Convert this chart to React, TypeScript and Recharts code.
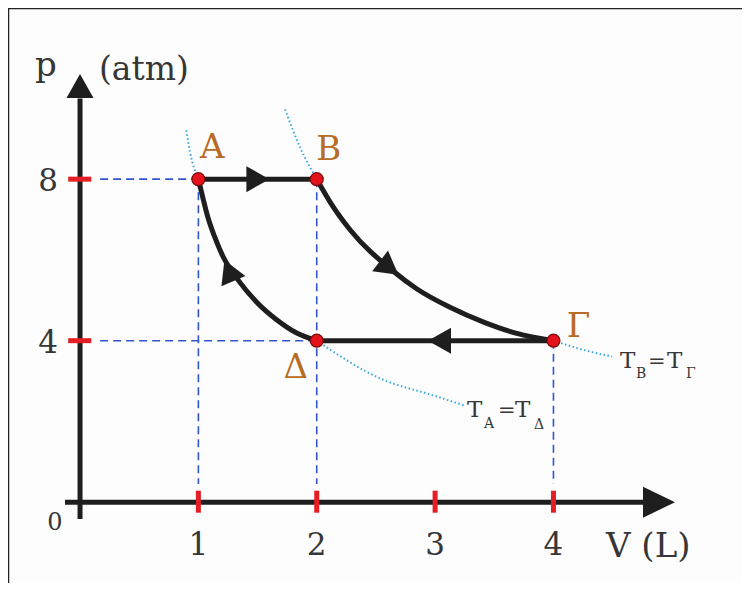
import React from 'react';
import { ComposedChart, XAxis, YAxis, Line, Scatter, ReferenceLine } from 'recharts';

// ---------- data ----------
const X_TICKS = [1, 2, 3, 4];
const Y_TICKS = [0, 4, 8];
const Y_RED_TICKS = [4, 8];

const STATES = [
  { name: 'A', x: 1, y: 8 },
  { name: 'B', x: 2, y: 8 },
  { name: 'Γ', x: 4, y: 4 },
  { name: 'Δ', x: 2, y: 4 },
];

const PATH_AB = [{ x: 1, y: 8 }, { x: 2, y: 8 }];
const PATH_BG = [
  { x: 2, y: 8 }, { x: 2.142, y: 7.3 }, { x: 2.283, y: 6.74 }, { x: 2.647, y: 5.72 },
  { x: 2.847, y: 5.28 }, { x: 3.13, y: 4.82 }, { x: 3.41, y: 4.46 }, { x: 3.69, y: 4.18 }, { x: 4, y: 4 },
];
const PATH_GD = [{ x: 2, y: 4 }, { x: 4, y: 4 }];
const PATH_DA = [
  { x: 1, y: 8 }, { x: 1.037, y: 7.55 }, { x: 1.079, y: 7.07 }, { x: 1.136, y: 6.58 },
  { x: 1.207, y: 6.09 }, { x: 1.349, y: 5.45 }, { x: 1.491, y: 4.96 }, { x: 1.661, y: 4.52 },
  { x: 1.831, y: 4.19 }, { x: 2, y: 4 },
];

const ISO_A_UPPER = [{ x: 0.898, y: 9.21 }, { x: 0.929, y: 8.68 }, { x: 1, y: 8 }];
const ISO_A_LOWER = [{ x: 2, y: 4 }, { x: 2.54, y: 3.06 }, { x: 2.99, y: 2.64 }, { x: 3.24, y: 2.4 }];
const ISO_B_UPPER = [{ x: 1.732, y: 9.73 }, { x: 1.86, y: 8.78 }, { x: 2, y: 8 }];
const ISO_B_LOWER = [{ x: 4, y: 4 }, { x: 4.27, y: 3.76 }, { x: 4.496, y: 3.605 }];

// arrow tip (x,y) and a point ahead along the path (ax,ay)
const PATH_ARROWS = [
  { x: 1.6, y: 8, ax: 2, ay: 8, kind: 'path' },
  { x: 2.69, y: 5.63, ax: 2.847, ay: 5.28, kind: 'path' },
  { x: 2.94, y: 4, ax: 2, ay: 4, kind: 'path' },
  { x: 1.22, y: 6.0, ax: 1.136, ay: 6.58, kind: 'path' },
];
const AXIS_ARROWS = [
  { x: 5.027, y: 0, ax: 6, ay: 0, kind: 'xaxis' },
  { x: 0, y: 10.604, ax: 0, ay: 11, kind: 'yaxis' },
];

const X_AXIS_SEGMENT = [{ x: -0.127, y: 0 }, { x: 4.76, y: 0 }];
const Y_AXIS_SEGMENT = [{ x: 0, y: -0.416 }, { x: 0, y: 10.0 }];

const GUIDES = [
  [{ x: 0.17, y: 8 }, { x: 1, y: 8 }],
  [{ x: 0.17, y: 4 }, { x: 2, y: 4 }],
  [{ x: 1, y: 8 }, { x: 1, y: 0.45 }],
  [{ x: 2, y: 8 }, { x: 2, y: 0.45 }],
  [{ x: 4, y: 4 }, { x: 4, y: 0.45 }],
];

// ---------- layout / style ----------
const W = 750;
const H = 591;
const X_DOMAIN: [number, number] = [-0.127, 5.027];
const Y_DOMAIN: [number, number] = [-0.416, 10.604];
const MARGIN = { top: 74, right: 75, left: 0, bottom: 0 };
const Y_AXIS_W = 65;
const X_AXIS_H = 72;
const PLOT_W = W - MARGIN.left - MARGIN.right - Y_AXIS_W;
const PLOT_H = H - MARGIN.top - MARGIN.bottom - X_AXIS_H;
const PX_PER_X = PLOT_W / (X_DOMAIN[1] - X_DOMAIN[0]);
const PX_PER_Y = PLOT_H / (Y_DOMAIN[1] - Y_DOMAIN[0]);

const FONT = '"DejaVu Serif", serif';
const INK = '#1e1e1e';
const TEXT = '#363636';
const LABEL_COLOR = '#b86b25';
const RED = '#e31e24';
const BLUE = '#3355cc';
const CYAN = '#35a8dd';

const ARROW_SIZE: Record<string, { len: number; wid: number }> = {
  path: { len: 23, wid: 26 },
  xaxis: { len: 32, wid: 31 },
  yaxis: { len: 24, wid: 27 },
};
const LABEL_OFFSET: Record<string, [number, number]> = {
  A: [14, -21],
  B: [12, -19],
  'Γ': [25, -4],
  'Δ': [-21, 37],
};

const ArrowHead = (props: any) => {
  const { cx, cy, payload } = props;
  if (cx == null || cy == null) return null;
  const dx = (payload.ax - payload.x) * PX_PER_X;
  const dy = -(payload.ay - payload.y) * PX_PER_Y;
  const ang = (Math.atan2(dy, dx) * 180) / Math.PI;
  const { len, wid } = ARROW_SIZE[payload.kind];
  return (
    <polygon
      points={`0,0 ${-len},${-wid / 2} ${-len},${wid / 2}`}
      transform={`translate(${cx},${cy}) rotate(${ang})`}
      fill={INK}
    />
  );
};

const StateDot = (props: any) => {
  const { cx, cy } = props;
  return <circle cx={cx} cy={cy} r={6.5} fill="#e3121b" stroke="#7a0a0a" strokeWidth={1.2} />;
};

const StateLabel = (props: any) => {
  const { cx, cy, payload } = props;
  const [dx, dy] = LABEL_OFFSET[payload.name];
  return (
    <text x={cx + dx} y={cy + dy} textAnchor="middle" fontFamily={FONT} fontSize={34} fill={LABEL_COLOR}>
      {payload.name}
    </text>
  );
};

const XTick = (props: any) => {
  const { x, payload } = props;
  return (
    <text x={x} y={555} textAnchor="middle" fontFamily={FONT} fontSize={31} fill={TEXT}>
      {payload.value}
    </text>
  );
};

const YTick = (props: any) => {
  const { y, payload } = props;
  if (payload.value === 0) {
    return (
      <text x={55} y={y + 28} textAnchor="middle" fontFamily={FONT} fontSize={24} fill={TEXT}>
        0
      </text>
    );
  }
  return (
    <text x={58} y={y + 12} textAnchor="end" fontFamily={FONT} fontSize={31} fill={TEXT}>
      {payload.value}
    </text>
  );
};

const Overlay = () => (
  <svg width={W} height={H} style={{ position: 'absolute', left: 0, top: 0, pointerEvents: 'none' }}>
    {/* frame */}
    <line x1={8} y1={8.5} x2={W} y2={8.5} stroke="#222" strokeWidth={1.5} />
    <line x1={8.5} y1={8} x2={8.5} y2={H} stroke="#222" strokeWidth={1.5} />
    <line x1={448.3} y1={8} x2={453.3} y2={0} stroke="#333" strokeWidth={1} />
    <line x1={468.3} y1={8} x2={473.3} y2={0} stroke="#333" strokeWidth={1} />
    <line x1={550} y1={0} x2={563.3} y2={8} stroke="#333" strokeWidth={1} />
    <line x1={571.7} y1={8} x2={576.7} y2={0} stroke="#333" strokeWidth={1} />
    {/* axis titles */}
    <text x={35} y={76} fontFamily={FONT} fontSize={34} fill={TEXT}>p</text>
    <text x={99} y={80} fontFamily={FONT} fontSize={33} fill={TEXT}>(atm)</text>
    <text x={606} y={557} fontFamily={FONT} fontSize={34} fill={TEXT}>V (L)</text>
    {/* isotherm labels */}
    <g fontFamily={FONT} fill={TEXT}>
      <text x={620} y={368} fontSize={23}>T</text>
      <text x={636} y={378} fontSize={14}>B</text>
      <text x={648} y={368} fontSize={21}>=</text>
      <text x={667} y={368} fontSize={23}>T</text>
      <text x={686} y={378} fontSize={14}>Γ</text>

      <text x={467} y={417} fontSize={23}>T</text>
      <text x={484} y={428} fontSize={14}>A</text>
      <text x={498} y={417} fontSize={21}>=</text>
      <text x={515} y={417} fontSize={23}>T</text>
      <text x={534} y={429} fontSize={14}>Δ</text>
    </g>
  </svg>
);

export default function App() {
  return (
    <div style={{ margin: -8, width: W, height: H, position: 'relative', background: '#fdfdfd' }}>
      <ComposedChart width={W} height={H} margin={MARGIN}>
        <XAxis
          type="number"
          dataKey="x"
          domain={X_DOMAIN}
          ticks={X_TICKS}
          axisLine={false}
          tickLine={false}
          height={X_AXIS_H}
          tick={<XTick />}
          interval={0}
        />
        <YAxis
          type="number"
          dataKey="y"
          domain={Y_DOMAIN}
          ticks={Y_TICKS}
          axisLine={false}
          tickLine={false}
          width={Y_AXIS_W}
          tick={<YTick />}
          interval={0}
        />

        {GUIDES.map((seg, i) => (
          <ReferenceLine key={`g${i}`} segment={seg} stroke={BLUE} strokeWidth={1.6} strokeDasharray="8 5" />
        ))}

        {[ISO_A_UPPER, ISO_A_LOWER, ISO_B_UPPER, ISO_B_LOWER].map((d, i) => (
          <Line
            key={`iso${i}`}
            data={d}
            dataKey="y"
            type="monotone"
            stroke={CYAN}
            strokeWidth={2}
            strokeDasharray="1.5 2.5"
            dot={false}
            activeDot={false}
            isAnimationActive={false}
          />
        ))}

        <ReferenceLine segment={X_AXIS_SEGMENT} stroke={INK} strokeWidth={5} />
        <ReferenceLine segment={Y_AXIS_SEGMENT} stroke={INK} strokeWidth={5} />

        {X_TICKS.map((v) => (
          <ReferenceLine key={`xt${v}`} segment={[{ x: v, y: -0.26 }, { x: v, y: 0.285 }]} stroke={RED} strokeWidth={5} />
        ))}
        {Y_RED_TICKS.map((v) => (
          <ReferenceLine key={`yt${v}`} segment={[{ x: -0.1, y: v }, { x: 0.095, y: v }]} stroke={RED} strokeWidth={5} />
        ))}

        {[PATH_AB, PATH_GD].map((d, i) => (
          <Line key={`h${i}`} data={d} dataKey="y" type="linear" stroke={INK} strokeWidth={5} dot={false} activeDot={false} isAnimationActive={false} />
        ))}
        {[PATH_BG, PATH_DA].map((d, i) => (
          <Line key={`c${i}`} data={d} dataKey="y" type="monotone" stroke={INK} strokeWidth={5} dot={false} activeDot={false} isAnimationActive={false} />
        ))}

        <Scatter data={PATH_ARROWS} dataKey="y" shape={<ArrowHead />} isAnimationActive={false} />
        <Scatter data={AXIS_ARROWS} dataKey="y" shape={<ArrowHead />} isAnimationActive={false} />
        <Scatter data={STATES} dataKey="y" shape={<StateDot />} isAnimationActive={false} />
        <Scatter data={STATES} dataKey="y" shape={<StateLabel />} isAnimationActive={false} />
      </ComposedChart>
      <Overlay />
    </div>
  );
}
